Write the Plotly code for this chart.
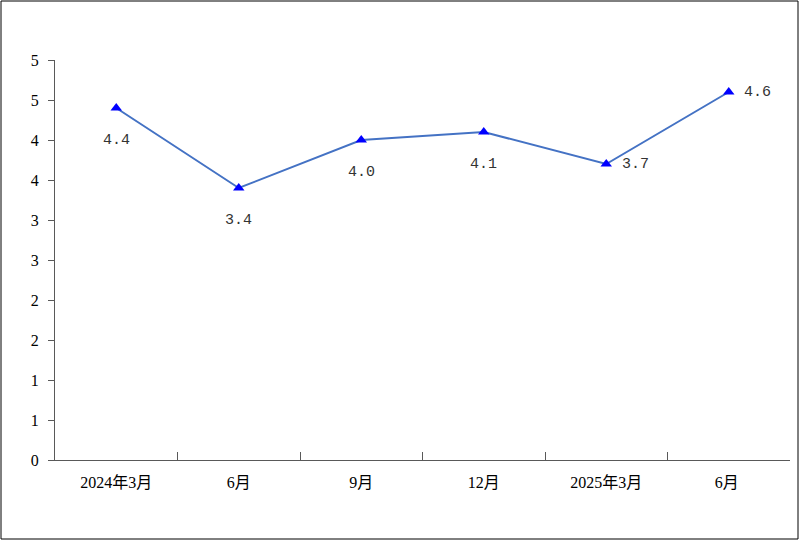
import plotly.graph_objects as go

categories = ["2024年3月", "6月", "9月", "12月", "2025年3月", "6月 "]
values = [4.4, 3.4, 4.0, 4.1, 3.7, 4.6]
value_labels = ["4.4", "3.4", "4.0", "4.1", "3.7", "4.6"]
label_pos = ["below", "below", "below", "below", "right", "right"]
y_tickvals = [0, 0.5, 1, 1.5, 2, 2.5, 3, 3.5, 4, 4.5, 5]
y_ticktext = ["0", "1", "1", "2", "2", "3", "3", "4", "4", "5", "5"]

W, H = 800, 541
ml, mr, mt, mb = 55, 10, 60, 81
pw, ph = W - ml - mr, H - mt - mb

fig = go.Figure()
fig.add_trace(go.Scatter(
    x=categories, y=values, mode="lines+markers",
    line=dict(color="#4472C4", width=2),
    marker=dict(symbol="triangle-up", color="#0000FF", size=10),
    cliponaxis=False, hoverinfo="skip",
))

label_font = dict(family="Liberation Mono, DejaVu Sans Mono, monospace", size=15, color="#333333")
for c, v, t, p in zip(categories, values, value_labels, label_pos):
    if p == "below":
        fig.add_annotation(x=c, y=v, text=t, showarrow=False, yshift=-32, font=label_font)
    else:
        fig.add_annotation(x=c, y=v, text=t, showarrow=False, xshift=29, font=label_font)

axis_font = dict(family="Liberation Serif, Noto Sans CJK SC, serif", size=16, color="#000000")

fig.update_layout(
    width=W, height=H,
    margin=dict(l=ml, r=mr, t=mt, b=mb),
    paper_bgcolor="white", plot_bgcolor="white",
    showlegend=False,
    xaxis=dict(
        type="category", showgrid=False, zeroline=False,
        showline=True, linecolor="#595959", linewidth=1,
        ticks="inside", tickson="boundaries", ticklen=8, tickcolor="#595959",
        tickfont=axis_font, ticklabelstandoff=8,
        range=[-0.5, len(categories) - 0.5],
    ),
    yaxis=dict(
        range=[0, 5], showgrid=False, zeroline=False,
        showline=True, linecolor="#595959", linewidth=1,
        tickvals=y_tickvals, ticktext=y_ticktext,
        ticks="outside", ticklen=6, tickcolor="#595959",
        tickfont=axis_font, ticklabelstandoff=6,
    ),
    shapes=[dict(
        type="rect", xref="paper", yref="paper",
        x0=(1 - ml) / pw, x1=(W - 2 - ml) / pw,
        y0=(ph + mt - (H - 2)) / ph, y1=(ph + mt - 1) / ph,
        line=dict(color="#000000", width=1), fillcolor="rgba(0,0,0,0)",
    )],
)

fig.write_html(
    "out.html",
    config={"displayModeBar": False},
    post_script="document.body.style.margin='0';document.body.style.overflow='hidden';",
)
